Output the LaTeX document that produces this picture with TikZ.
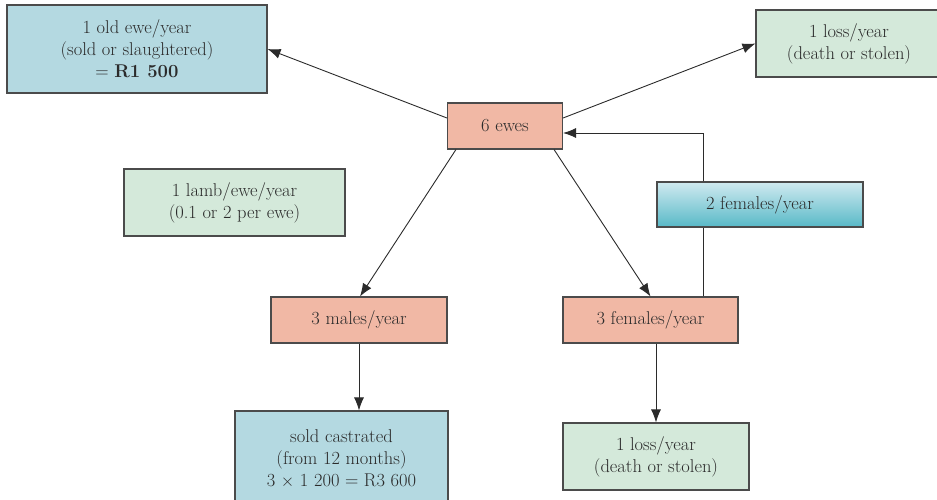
\documentclass[tikz,border=0pt]{standalone}
\usepackage{tikz}
\usetikzlibrary{arrows.meta, positioning, calc}
\definecolor{eweRed}{HTML}{F1B8A5}
\definecolor{eweBlue}{HTML}{B4D9E1}
\definecolor{eweGreen}{HTML}{D4E9DA}
\definecolor{tealTop}{HTML}{D0EAF0}
\definecolor{tealBottom}{HTML}{58B9C7}
\definecolor{lineGray}{HTML}{2B2B2B}

\begin{document}
\begin{tikzpicture}[
    x=1pt, y=-1pt,
    >=Latex,
    every node/.style={font=\fontsize{18.5}{22}\selectfont, text=lineGray},
    box/.style={draw=lineGray!85, line width=1.1pt, rectangle, align=center, inner sep=2pt},
    flock/.style={box, fill=eweRed, minimum height=46pt},
    sale/.style={box, fill=eweBlue},
    loss/.style={box, fill=eweGreen, minimum width=186pt, minimum height=67pt},
    kept/.style={box, top color=tealTop, bottom color=tealBottom, minimum height=45pt},
    arrow/.style={line width=0.9pt, draw=lineGray, -{Latex[length=13pt, width=10pt]}},
    link/.style={line width=0.9pt, draw=lineGray}
]
\useasboundingbox (0,0) rectangle (937,499);
\clip (0,0) rectangle (937,499);

% Centre node
\node[flock, minimum width=115pt] (ewes) at (505,126) {6 ewes};

% Top row
\node[sale, minimum width=260pt, minimum height=88pt] (oldewe) at (137,49) {1 old ewe/year\\(sold or slaughtered)\\= \textbf{R1 500}};
\node[loss] (losstop) at (849,43.5) {1 loss/year\\(death or stolen)};

% Middle row
\node[loss, minimum width=221pt] (lamb) at (234.5,202.5) {1 lamb/ewe/year\\(0.1 or 2 per ewe)};
\node[kept, minimum width=206pt] (twofem) at (760,204.5) {2 females/year};

% Offspring
\node[flock, minimum width=176pt] (males) at (359,320) {3 males/year};
\node[flock, minimum width=175pt] (females) at (650.5,320) {3 females/year};

% Bottom row
\node[sale, minimum width=213pt, minimum height=96pt] (sold) at (341.5,459) {sold castrated\\(from 12 months)\\3 $\times$ 1 200 = R3 600};
\node[loss] (lossbot) at (656,456.5) {1 loss/year\\(death or stolen)};

% Arrows out of the flock
\draw[arrow] ([yshift=8pt]ewes.west) -- (oldewe.east);
\draw[arrow] ([yshift=8pt]ewes.east) -- (losstop.west);
\draw[arrow] ([xshift=9pt]ewes.south west) -- ([xshift=1pt]males.north);
\draw[arrow] ([xshift=-9pt]ewes.south east) -- (females.north);

% Replacement loop
\coordinate (up) at (703,133);
\draw[link] (females.north -| up) -- (twofem.south -| up);
\draw[arrow] (twofem.north -| up) -- (up) -- (ewes.east |- up);

% Lower arrows
\draw[arrow] (males.south) -- (males.south |- sold.north);
\draw[arrow] (lossbot.north |- females.south) -- (lossbot.north);

\end{tikzpicture}
\end{document}
